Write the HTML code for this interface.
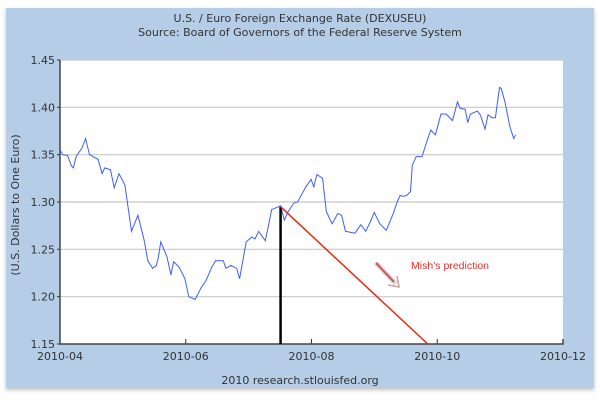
<!DOCTYPE html>
<html><head><meta charset="utf-8"><style>
body{margin:0;background:#fff;width:600px;height:400px;overflow:hidden}
svg{display:block;font-family:"DejaVu Sans","Liberation Sans",sans-serif}
</style></head><body>
<svg id="c" width="600" height="400">
<defs><filter id="sh" x="-5%" y="-5%" width="110%" height="110%"><feDropShadow dx="0" dy="2" stdDeviation="2" flood-color="#000" flood-opacity="0.25"/></filter></defs>
<rect x="6" y="8" width="588" height="380" fill="#b5cde6" filter="url(#sh)"/>
<rect x="60" y="60" width="503" height="284" fill="#fff"/>
<text x="300" y="22" font-size="11" text-anchor="middle" fill="#333">U.S. / Euro Foreign Exchange Rate (DEXUSEU)</text>
<text x="300" y="36" font-size="11" text-anchor="middle" fill="#333">Source: Board of Governors of the Federal Reserve System</text>
<text x="300" y="384" font-size="11" text-anchor="middle" fill="#333">2010 research.stlouisfed.org</text>
<text transform="translate(19,205) rotate(-90)" font-size="11" text-anchor="middle" fill="#333">(U.S. Dollars to One Euro)</text>
<g id="grid"></g><g id="axes"></g><g id="series"></g>
<text x="411" y="269" font-size="10.5" fill="#e8302a" font-family="Liberation Sans,sans-serif">Mish’s prediction</text>
<g>
<line x1="376" y1="263" x2="396" y2="284" stroke="#ddd" stroke-width="5"/>
<line x1="376" y1="263" x2="394" y2="282" stroke="#c9585a" stroke-width="2"/>
<path d="M388 285 L399 287 L397 276" fill="none" stroke="#c9a0a0" stroke-width="1.5"/>
</g>
</svg>
<script>
const days=[0,1.3,3.7,5.6,6.5,7.8,10.6,12.4,14.3,18.5,20.4,21.7,24.5,26.3,28.6,31.5,34.7,37.8,40.8,42.6,44.9,46.7,47.6,48.9,51.9,53.8,55.1,57.8,60.6,62.5,65.6,68.6,70.8,73.6,75.5,79.2,80.5,82.9,85.7,87.1,90.3,93.1,94.6,96.4,99.6,102.7,107,108.8,110.7,113.5,115.3,119,121.8,123.1,124.6,127.4,129.2,132,134.8,136.6,138.5,143.1,145.9,148.3,150.5,152.4,155.2,158.3,161.7,163.5,165,166.3,168.2,170,170.9,172.8,175.6,178,179.8,182.1,184.8,187.3,190.4,192.8,194.1,196.5,197.8,199.1,202.5,203.9,206.2,207.6,209.5,211.2,213.2,214,215.8,218.2,220.1,221];
const rates=[1.355,1.350,1.349,1.338,1.336,1.348,1.357,1.367,1.350,1.345,1.330,1.336,1.334,1.315,1.330,1.318,1.269,1.286,1.260,1.238,1.230,1.233,1.240,1.258,1.242,1.223,1.237,1.231,1.219,1.200,1.197,1.210,1.217,1.231,1.238,1.238,1.230,1.233,1.230,1.219,1.258,1.263,1.261,1.269,1.259,1.292,1.296,1.281,1.290,1.299,1.300,1.315,1.324,1.316,1.329,1.325,1.290,1.277,1.288,1.286,1.269,1.267,1.276,1.269,1.279,1.289,1.277,1.270,1.288,1.300,1.307,1.306,1.307,1.311,1.339,1.348,1.348,1.364,1.376,1.371,1.393,1.393,1.386,1.406,1.399,1.398,1.384,1.393,1.396,1.392,1.377,1.392,1.389,1.389,1.421,1.420,1.406,1.380,1.367,1.371];
const yTicks=[1.15,1.20,1.25,1.30,1.35,1.40,1.45];
const xTickDays=[0,61,122,183,244];
const xTickLabels=["2010-04","2010-06","2010-08","2010-10","2010-12"];
const markerDay=[107];
const predictionDays=[107,178.4];
const predictionRates=[1.295,1.15];
const X0=60,X1=563,Y0=344,Y1=60;
const xs=d=>X0+d/244*(X1-X0);
const ys=v=>Y0-(v-1.15)/0.30*(Y0-Y1);
const NS="http://www.w3.org/2000/svg";
function mk(tag,at,par){const e=document.createElementNS(NS,tag);for(const k in at)e.setAttribute(k,at[k]);document.getElementById(par).appendChild(e);return e;}
yTicks.forEach(v=>{
 if(v>1.15){const g=mk('line',{x1:X0,x2:X1,y1:ys(v),y2:ys(v),stroke:'#c8c8c8','stroke-width':1.2},'grid');
 
 }
 const t=mk('line',{x1:X0-3,x2:X0,y1:ys(v),y2:ys(v),stroke:'#333'},'axes');
 
 
 const l=mk('text',{x:X0-5,y:ys(v)+4,'font-size':11,'text-anchor':'end',fill:'#333'},'axes');l.textContent=v.toFixed(2);
 
 
});
xTickDays.forEach((d,i)=>{
 const t=mk('line',{x1:xs(d),x2:xs(d),y1:Y0,y2:Y0-5,stroke:'#333'},'axes');
 
 
 const l=mk('text',{x:xs(d),y:Y0+16,'font-size':11,'text-anchor':'middle',fill:'#333'},'axes');l.textContent=xTickLabels[i];
 
 
});
const ax=mk('path',{d:`M${X0} ${Y1} V${Y0} H${X1} V${Y0-5}`,fill:'none',stroke:'#444','stroke-width':1.5},'axes');


const ln=mk('polyline',{points:days.map((d,i)=>xs(d).toFixed(1)+','+ys(rates[i]).toFixed(1)).join(' '),fill:'none',stroke:'#3c5ff0','stroke-width':1},'series');


const vl=mk('line',{x1:xs(markerDay[0]),x2:xs(markerDay[0]),y1:ys(predictionRates[0]),y2:Y0,stroke:'#000','stroke-width':2.5},'series');


const pl=mk('line',{x1:xs(predictionDays[0]),y1:ys(predictionRates[0]),x2:xs(predictionDays[1]),y2:ys(predictionRates[1]),stroke:'#e82a10','stroke-width':1.5},'series');


</script>
</body></html>
